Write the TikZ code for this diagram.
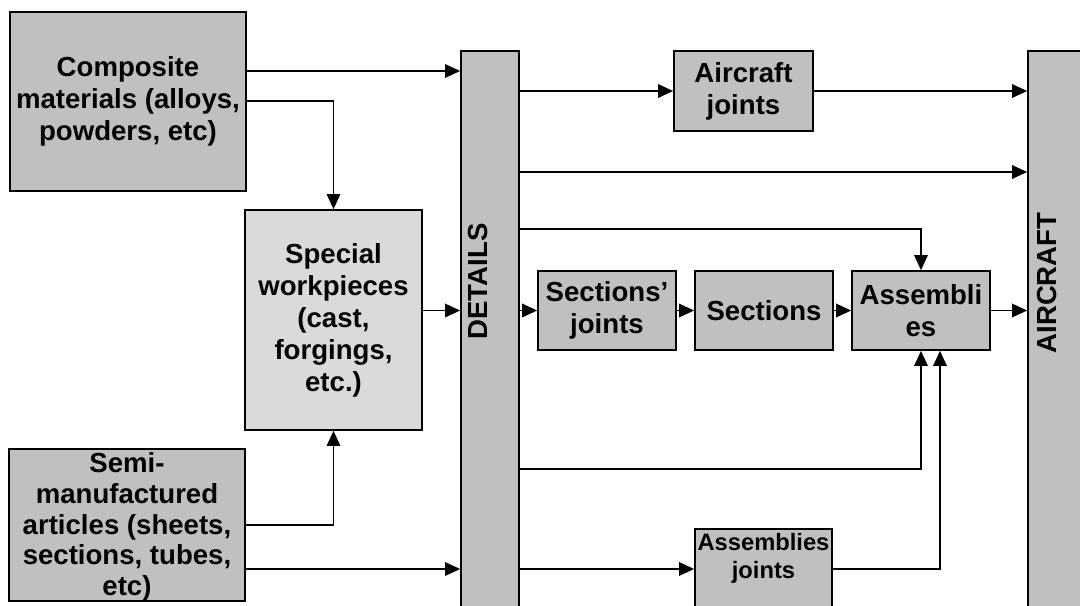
\documentclass[tikz,border=0pt]{standalone}
\usepackage{fontspec}
\setmainfont{Liberation Sans}
\usetikzlibrary{arrows.meta}
\definecolor{boxgray}{RGB}{192,192,192}
\definecolor{lightgray}{RGB}{218,218,218}
\begin{document}
\begin{tikzpicture}[
    x=0.02cm, y=-0.02cm,
    box/.style={rectangle, draw, line width=1pt, fill=boxgray, inner sep=0pt, align=center, font=\bfseries\fontsize{15.7}{18.2}\selectfont},
    lbl/.style={inner sep=0pt, align=center, font=\bfseries\fontsize{15.7}{18.2}\selectfont},
    arrow/.style={-{Triangle[length=0.3cm, width=0.27cm]}, line width=0.8pt}
]
    \useasboundingbox (0,0) rectangle (1080,606);
    \clip (0,0) rectangle (1080,606);
    \node[box, minimum width=4.72cm, minimum height=3.58cm] (comp) at (128,101.5) {Composite\\materials (alloys,\\powders, etc)};
    \node[box, fill=lightgray, minimum width=3.54cm, minimum height=4.4cm] (special) at (333.5,320) {Special\\workpieces\\(cast,\\forgings,\\etc.)};
    \node[box, minimum width=4.72cm, minimum height=3.04cm] (semi) at (127,525) {};
    \node[lbl, font=\bfseries\fontsize{15.7}{17.4}\selectfont] at ([yshift=-0.04cm]semi) {Semi-\\manufactured\\articles (sheets,\\sections, tubes,\\etc)};
    \node[box, minimum width=1.16cm, minimum height=11.78cm] (details) at (490,345.5) {};
    \node[lbl, rotate=90] at (478,281.5) {DETAILS};
    \node[box, minimum width=2.78cm, minimum height=1.6cm] (ajoints) at (743.5,91) {Aircraft\\joints};
    \node[box, minimum width=2.76cm, minimum height=1.58cm] (sjoints) at (607,310.5) {Sections’\\joints};
    \node[box, minimum width=2.76cm, minimum height=1.58cm] (sections) at (764,310.5) {Sections};
    \node[box, minimum width=2.76cm, minimum height=1.58cm] (assem) at (921,310.5) {Assembli\\es};
    \node[box, minimum width=2.74cm, minimum height=1.6cm] (asmj) at (763.5,569) {};
    \node[lbl, anchor=north, font=\bfseries\fontsize{13.5}{15.9}\selectfont] at ([yshift=-0.1cm]asmj.north) {Assemblies\\joints};
    \node[box, minimum width=1.44cm, minimum height=11.78cm] (aircraft) at (1064,345.5) {};
    \node[lbl, rotate=90] at (1047,283) {AIRCRAFT};
    % inputs
    \draw[arrow] (comp.east |- 0,71) -- (details.west |- 0,71);
    \draw[arrow] (comp.east |- 0,101) -| (special.north);
    \draw[arrow] (semi.east) -| (special.south);
    \draw[arrow] (semi.east |- asmj) -- (details.west |- asmj);
    \draw[arrow] (special.east |- sjoints) -- (details.west |- sjoints);
    % details outputs
    \draw[arrow] (details.east |- ajoints) -- (ajoints.west);
    \draw[arrow] (ajoints.east) -- (aircraft.west |- ajoints);
    \draw[arrow] (details.east |- 0,172) -- (aircraft.west |- 0,172);
    \draw[arrow] (details.east |- 0,229) -| (assem.north);
    \draw[arrow] (details.east |- sjoints) -- (sjoints.west);
    \draw[arrow] (sjoints) -- (sections);
    \draw[arrow] (sections) -- (assem);
    \draw[arrow] (assem.east) -- (aircraft.west |- assem);
    \draw[arrow] (details.east |- 0,469) -| (assem.south);
    \draw[arrow] (details.east |- asmj) -- (asmj.west);
    \draw[arrow] (asmj.east) -| ([xshift=0.38cm]assem.south);
\end{tikzpicture}
\end{document}
